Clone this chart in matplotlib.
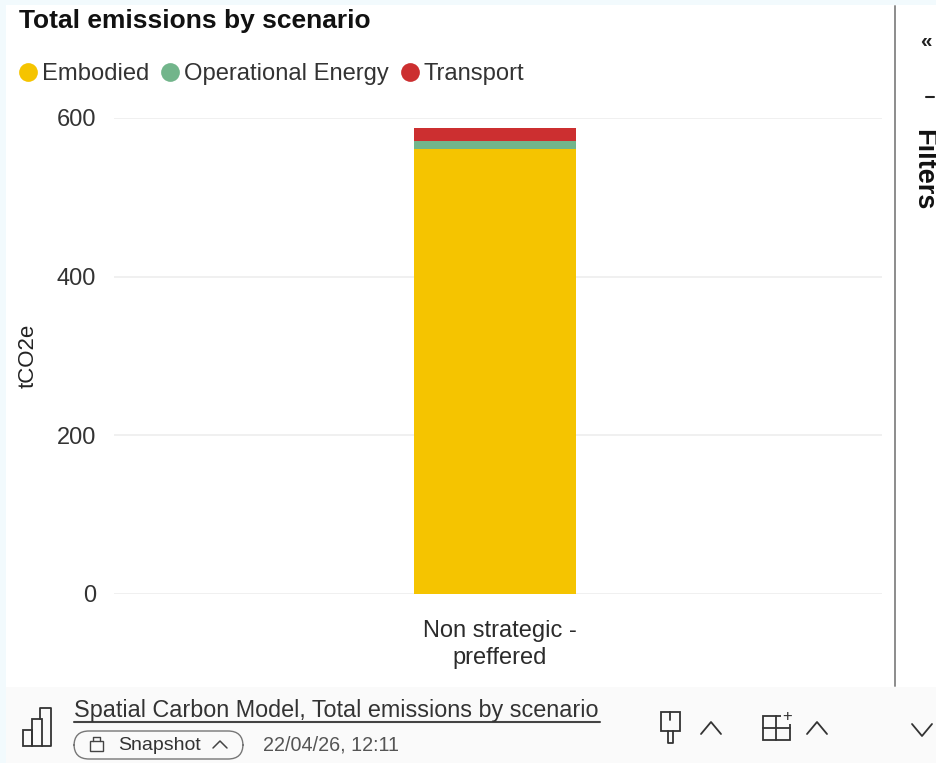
import matplotlib
matplotlib.use("Agg")
import matplotlib.pyplot as plt
from matplotlib.lines import Line2D
from matplotlib.patches import Rectangle, FancyBboxPatch

# ---- data ----
categories = ["Non strategic -\npreffered"]
series_names = ["Embodied", "Operational Energy", "Transport"]
embodied = [561]
operational = [10]
transport = [16]
colors = ["#F5C400", "#72B58B", "#CC2F30"]
yticks = [0, 200, 400, 600]

W, H = 936, 763
plt.rcParams["font.family"] = ["Liberation Sans", "DejaVu Sans"]
fig = plt.figure(figsize=(W / 100, H / 100), dpi=100, facecolor="#F2FAFD")


def fx(x):
    return x / W


def fy(y):
    return 1 - y / H


def frect(x0, y0, x1, y1, **kw):
    r = Rectangle((fx(x0), fy(y1)), (x1 - x0) / W, (y1 - y0) / H,
                  transform=fig.transFigure, **kw)
    fig.add_artist(r)
    return r


def fline(xs, ys, color="#333333", lw=1.3):
    fig.add_artist(Line2D([fx(x) for x in xs], [fy(y) for y in ys],
                          transform=fig.transFigure, color=color, lw=lw,
                          solid_capstyle="round", solid_joinstyle="round"))


# window panels
frect(6, 5, W, 687, fc="white", ec="none", zorder=-5)
frect(6, 687, W, H, fc="#FAFAFA", ec="none", zorder=-5)
frect(0, 687, 6, H, fc="#F2FAFD", ec="none", zorder=-5)
fline([894.5, 894.5], [6, 686], color="#8C8C8C", lw=1.4)

# chart
ax = fig.add_axes([fx(114), fy(594), (882 - 114) / W, (594 - 118) / H])
ax.patch.set_alpha(0)
x = range(len(categories))
bottom = [0] * len(categories)
for name, vals, c in zip(series_names, [embodied, operational, transport], colors):
    ax.bar(x, vals, bottom=bottom, width=0.211, color=c, label=name, zorder=3,
           linewidth=0)
    bottom = [b + v for b, v in zip(bottom, vals)]
ax.set_xlim(-0.5 + 3 / 768, 0.5 + 3 / 768)
ax.set_ylim(0, 600)
ax.set_yticks(yticks)
# the reference's category label sits a few pixels right of the bar centre
ax.set_xticks([i + 5 / 768 for i in x])
ax.set_xticklabels(categories, fontsize=17, color="#2B2B2B", linespacing=1.3)
ax.tick_params(axis="y", length=0, labelsize=17, labelcolor="#333333", pad=13)
ax.tick_params(axis="x", length=0, pad=19)
ax.grid(axis="y", color="#F0F0F0", lw=1.4, zorder=0)
ax.set_axisbelow(True)
for s in ax.spines.values():
    s.set_visible(False)
ax.set_ylabel("tCO2e", fontsize=16, color="#222222")
ax.yaxis.set_label_coords(fx(39), fy(356), transform=fig.transFigure)

# title and legend
fig.text(fx(19), fy(21), "Total emissions by scenario", fontsize=19,
         fontweight="bold", color="#111111", va="center", ha="left")
handles = [Line2D([], [], marker="o", ls="none", ms=13.5, mfc=c, mec="none")
           for c in colors]
fig.legend(handles, series_names, loc="center left",
           bbox_to_anchor=(fx(10), fy(74)), frameon=False, ncol=3, fontsize=17.1,
           labelcolor="#333333", handletextpad=-0.17, columnspacing=0.14,
           borderpad=0, borderaxespad=0, handlelength=1.5)

# side strip
fig.text(fx(923), fy(170), "Filters", rotation=270, fontsize=19.5,
         fontweight="bold", color="#111111", ha="center", va="center")
fig.text(fx(926), fy(41), "«", fontsize=15, fontweight="bold", color="#222222",
         ha="center", va="center")
fline([926, 934], [97, 97], color="#222222", lw=1.5)

# footer
fig.text(fx(74), fy(711), "Spatial Carbon Model, Total emissions by scenario",
         fontsize=16.85, color="#333333", va="center", ha="left")
fline([74, 600], [722, 722], color="#444444", lw=1.5)
fig.add_artist(FancyBboxPatch((fx(74), fy(759)), 169 / W, 28 / H,
                              boxstyle="round,pad=0,rounding_size=0.016",
                              transform=fig.transFigure, fc="none",
                              ec="#777777", lw=1.0, mutation_aspect=W / H))
fig.text(fx(118), fy(745.5), "Snapshot", fontsize=14, color="#333333", va="center",
         ha="left")
fig.text(fx(263), fy(745), "22/04/26, 12:11", fontsize=14.2, color="#555555",
         va="center", ha="left")
# lock icon
frect(90, 741, 103, 751, fc="none", ec="#444444", lw=1)
fline([93, 93, 100, 100], [741, 737, 737, 741], color="#444444", lw=1)
# snapshot chevron
fline([213, 220, 227], [748, 741, 748], color="#444444", lw=1.1)
# chart icon
frect(23, 730, 32, 746, fc="none", ec="#333333", lw=1.3)
frect(32, 719, 42, 746, fc="none", ec="#333333", lw=1.3)
fline([40, 40, 51, 51, 42], [719, 708, 708, 746, 746], lw=1.3)
# brush icon
frect(661, 712, 680, 731, fc="none", ec="#333333", lw=1.3)
fline([668, 668, 673, 673], [731, 743, 743, 731], lw=1.3)
fline([670, 670], [712, 720], lw=1.3)
fline([701, 711, 721], [734, 722, 734], lw=1.3)
# layout icon
frect(763, 716, 790, 740, fc="none", ec="#333333", lw=1.3)
fline([776, 776], [716, 740], lw=1.3)
fline([763, 790], [728, 728], lw=1.3)
fig.text(fx(787), fy(716), "+", fontsize=12, color="#333333", ha="center",
         va="center", bbox=dict(fc="#FAFAFA", ec="none", pad=0.5))
fline([807, 817, 827], [734, 722, 734], lw=1.3)
fline([912, 922, 932], [724, 736, 724], lw=1.3)

fig.savefig("out.png", dpi=100, facecolor=fig.get_facecolor())
